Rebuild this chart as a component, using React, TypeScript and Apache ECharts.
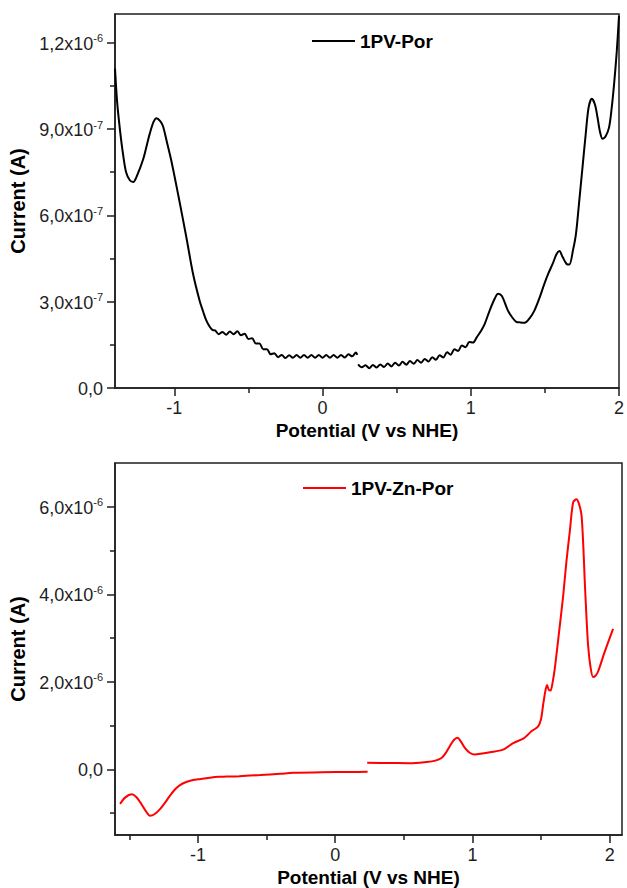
import React, { useEffect, useRef } from "react";
import * as echarts from "echarts";

// ---- Top panel: 1PV-Por (current in units of 1e-7 A) ----
const porSegA: [number, number][] = [
  [-1.4, 11.1], [-1.385, 9.9], [-1.366, 8.95], [-1.345, 8.1], [-1.325, 7.5], [-1.3, 7.22],
  [-1.277, 7.16], [-1.25, 7.4], [-1.21, 7.95], [-1.185, 8.45], [-1.165, 8.85], [-1.14, 9.25],
  [-1.12, 9.38], [-1.095, 9.28], [-1.076, 9.1], [-1.05, 8.55], [-1.02, 7.9], [-0.975, 6.75],
  [-0.919, 5.25], [-0.874, 3.98], [-0.83, 3.05], [-0.805, 2.65], [-0.785, 2.36], [-0.76, 2.12],
  [-0.74, 2.01], [-0.725, 2.0], [-0.7, 1.87], [-0.675, 1.95], [-0.65, 1.85], [-0.625, 1.96],
  [-0.6, 1.87], [-0.575, 1.97], [-0.55, 1.83], [-0.525, 1.89], [-0.5, 1.7], [-0.475, 1.73],
  [-0.45, 1.55], [-0.425, 1.55], [-0.4, 1.35], [-0.375, 1.35], [-0.35, 1.17], [-0.325, 1.21],
  [-0.3, 1.07], [-0.275, 1.15], [-0.25, 1.04], [-0.225, 1.14], [-0.2, 1.05], [-0.175, 1.15],
  [-0.15, 1.05], [-0.125, 1.15], [-0.1, 1.05], [-0.075, 1.15], [-0.05, 1.05], [-0.025, 1.15],
  [0, 1.05], [0.025, 1.15], [0.05, 1.05], [0.075, 1.15], [0.1, 1.05], [0.125, 1.15],
  [0.15, 1.06], [0.175, 1.17], [0.2, 1.1], [0.225, 1.23], [0.235, 1.15],
];
const porSegB: [number, number][] = [
  [0.24, 0.82], [0.265, 0.72], [0.29, 0.79], [0.315, 0.69], [0.34, 0.8], [0.365, 0.71],
  [0.39, 0.82], [0.415, 0.73], [0.44, 0.85], [0.465, 0.75], [0.49, 0.88], [0.515, 0.78],
  [0.54, 0.91], [0.565, 0.81], [0.59, 0.94], [0.615, 0.84], [0.64, 0.97], [0.665, 0.88],
  [0.69, 1.01], [0.715, 0.92], [0.74, 1.07], [0.765, 0.98], [0.79, 1.14], [0.815, 1.06],
  [0.84, 1.24], [0.865, 1.16], [0.89, 1.35], [0.915, 1.29], [0.94, 1.48], [0.965, 1.42],
  [0.99, 1.6], [1.015, 1.58], [1.04, 1.76], [1.072, 2.01], [1.095, 2.24], [1.128, 2.7],
  [1.162, 3.11], [1.184, 3.28], [1.21, 3.2], [1.25, 2.7], [1.28, 2.45], [1.307, 2.3],
  [1.335, 2.28], [1.363, 2.27], [1.4, 2.45], [1.43, 2.7], [1.465, 3.15], [1.497, 3.63],
  [1.525, 4.0], [1.553, 4.32], [1.578, 4.65], [1.598, 4.76], [1.62, 4.55], [1.645, 4.32],
  [1.665, 4.29], [1.69, 4.8], [1.71, 5.37], [1.73, 6.4], [1.754, 7.68], [1.775, 8.8],
  [1.795, 9.75], [1.817, 10.05], [1.838, 9.85], [1.855, 9.41], [1.872, 8.9], [1.889, 8.66],
  [1.91, 8.75], [1.933, 9.06], [1.95, 9.7], [1.967, 10.57], [1.985, 11.7], [2.0, 12.94],
];

// ---- Bottom panel: 1PV-Zn-Por (current in units of 1e-6 A) ----
const znSegA: [number, number][] = [
  [-1.568, -0.79], [-1.53, -0.64], [-1.483, -0.57], [-1.45, -0.63], [-1.422, -0.75],
  [-1.385, -0.93], [-1.35, -1.06], [-1.315, -1.02], [-1.277, -0.91], [-1.24, -0.76],
  [-1.204, -0.6], [-1.165, -0.45], [-1.131, -0.36], [-1.095, -0.3], [-1.058, -0.26],
  [-0.98, -0.22], [-0.913, -0.19], [-0.85, -0.17], [-0.791, -0.165], [-0.7, -0.155],
  [-0.548, -0.13], [-0.4, -0.1], [-0.306, -0.08], [-0.1, -0.065], [0.107, -0.06], [0.236, -0.055],
];
const znSegB: [number, number][] = [
  [0.233, 0.15], [0.4, 0.145], [0.544, 0.14], [0.666, 0.17], [0.73, 0.2], [0.775, 0.26],
  [0.805, 0.37], [0.835, 0.53], [0.865, 0.67], [0.891, 0.72], [0.915, 0.64], [0.945, 0.49],
  [0.98, 0.38], [1.017, 0.34], [1.07, 0.36], [1.127, 0.39], [1.224, 0.45], [1.26, 0.52],
  [1.297, 0.6], [1.37, 0.7], [1.4, 0.78], [1.43, 0.87], [1.479, 0.98], [1.5, 1.15],
  [1.515, 1.47], [1.532, 1.8], [1.544, 1.93], [1.556, 1.82], [1.569, 1.8], [1.585, 2.0],
  [1.6, 2.3], [1.63, 3.1], [1.661, 3.96], [1.685, 4.75], [1.71, 5.45], [1.734, 6.1],
  [1.758, 6.17], [1.778, 6.05], [1.795, 5.8], [1.808, 5.1], [1.818, 4.34], [1.83, 3.55],
  [1.843, 2.83], [1.86, 2.35], [1.879, 2.11], [1.897, 2.14], [1.915, 2.23], [1.96, 2.65],
  [2.025, 3.21],
];

// ---- Ticks ----
const topXMajor = [-1, 0, 1, 2];
const topXMinor = [-0.5, 0.5, 1.5];
const topYMajor = [0, 3, 6, 9, 12]; // x1e-7
const topYMinor = [1.5, 4.5, 7.5, 10.5];
const botXMajor = [-1, 0, 1, 2];
const botXMinor = [-1.5, -0.5, 0.5, 1.5];
const botYMajor = [0, 2, 4, 6]; // x1e-6
const botYMinor = [-1, 1, 3, 5];

const TOP_UNIT = 1e-7;
const BOT_UNIT = 1e-6;

const seriesNames = ["1PV-Por", "1PV-Zn-Por"];
const seriesColors = ["#000000", "#ff0000"];

const FONT = "Liberation Sans, Arial, sans-serif";
const AXIS_COLOR = "#1e1e1e";

function sciLabel(v: number, unit: number): string {
  if (Math.abs(v) < 1e-9) return "{b|0,0}";
  const val = v * unit;
  const exp = Math.floor(Math.log10(Math.abs(val)) + 1e-9);
  const mant = val / Math.pow(10, exp);
  return `{b|${mant.toFixed(1).replace(".", ",")}x10}{s|${exp}}`;
}

export default function App() {
  const ref = useRef<HTMLDivElement>(null);
  useEffect(() => {
    if (!ref.current) return;
    const chart = echarts.init(ref.current, undefined, { renderer: "svg" });
    const grids = [
      { left: 115, top: 14, width: 507, height: 374 },
      { left: 115, top: 463, width: 507, height: 374 },
    ];
    const richY = {
      b: { fontSize: 18, fontFamily: FONT, color: AXIS_COLOR, lineHeight: 20, verticalAlign: "bottom" },
      s: { fontSize: 11, fontFamily: FONT, color: AXIS_COLOR, lineHeight: 12, verticalAlign: "top" },
    };
    const mainX = (gridIndex: number, min: number, max: number, major: number[]) => ({
      type: "value",
      gridIndex,
      min,
      max,
      position: "bottom",
      name: "Potential (V vs NHE)",
      nameLocation: "middle",
      nameGap: 33,
      nameTextStyle: { fontSize: 19, fontWeight: "bold", fontFamily: FONT, color: "#000" },
      axisLine: { show: true, onZero: false, lineStyle: { color: AXIS_COLOR, width: 1.5 } },
      axisTick: { show: true, inside: false, length: 8, customValues: major, lineStyle: { color: AXIS_COLOR, width: 1.5 } },
      axisLabel: {
        show: true,
        customValues: major,
        margin: 11,
        fontSize: 18,
        fontFamily: FONT,
        color: AXIS_COLOR,
        formatter: (v: number) => String(v),
      },
      splitLine: { show: false },
    });
    const minorX = (gridIndex: number, min: number, max: number, minor: number[]) => ({
      type: "value",
      gridIndex,
      min,
      max,
      position: "bottom",
      axisLine: { show: false, onZero: false },
      axisTick: { show: true, inside: false, length: 5, customValues: minor, lineStyle: { color: AXIS_COLOR, width: 1.5 } },
      axisLabel: { show: false },
      splitLine: { show: false },
    });
    const mainY = (gridIndex: number, min: number, max: number, major: number[], unit: number) => ({
      type: "value",
      gridIndex,
      min,
      max,
      position: "left",
      name: "Current (A)",
      nameLocation: "middle",
      nameGap: 82,
      nameTextStyle: { fontSize: 20, fontWeight: "bold", fontFamily: FONT, color: "#000" },
      axisLine: { show: true, onZero: false, lineStyle: { color: AXIS_COLOR, width: 1.5 } },
      axisTick: { show: true, inside: false, length: 8, customValues: major, lineStyle: { color: AXIS_COLOR, width: 1.5 } },
      axisLabel: {
        show: true,
        customValues: major,
        margin: 12,
        fontSize: 18,
        fontFamily: FONT,
        color: AXIS_COLOR,
        formatter: (v: number) => sciLabel(v, unit),
        rich: richY,
      },
      splitLine: { show: false },
    });
    const minorY = (gridIndex: number, min: number, max: number, minor: number[]) => ({
      type: "value",
      gridIndex,
      min,
      max,
      position: "left",
      axisLine: { show: false, onZero: false },
      axisTick: { show: true, inside: false, length: 5, customValues: minor, lineStyle: { color: AXIS_COLOR, width: 1.5 } },
      axisLabel: { show: false },
      splitLine: { show: false },
    });
    const lineSeries = (name: string, data: [number, number][], xi: number, yi: number, color: string) => ({
      type: "line",
      name,
      data,
      xAxisIndex: xi,
      yAxisIndex: yi,
      showSymbol: false,
      symbol: "none",
      smooth: 0.3,
      lineStyle: { color, width: 2 },
      itemStyle: { color },
      emphasis: { disabled: true },
    });
    const legendItem = (name: string, color: string, x1: number, x2: number, y: number) => [
      {
        type: "line",
        shape: { x1, y1: y, x2, y2: y },
        style: { stroke: color, lineWidth: 2 },
        silent: true,
      },
      {
        type: "text",
        x: x2 + 5,
        y,
        style: {
          text: name,
          fill: "#000",
          font: `bold 19px ${FONT}`,
          textVerticalAlign: "middle",
          verticalAlign: "middle",
        },
        silent: true,
      },
    ];

    chart.setOption({
      animation: false,
      backgroundColor: "#fff",
      grid: grids.map((g) => ({ ...g, show: true, borderColor: AXIS_COLOR, borderWidth: 1.5, backgroundColor: "transparent" })),
      xAxis: [
        mainX(0, -1.4, 2, topXMajor),
        minorX(0, -1.4, 2, topXMinor),
        mainX(1, -1.605, 2.09, botXMajor),
        minorX(1, -1.605, 2.09, botXMinor),
      ],
      yAxis: [
        mainY(0, 0, 13, topYMajor, TOP_UNIT),
        minorY(0, 0, 13, topYMinor),
        mainY(1, -1.5, 7, botYMajor, BOT_UNIT),
        minorY(1, -1.5, 7, botYMinor),
      ],
      graphic: [
        ...legendItem(seriesNames[0], seriesColors[0], 312, 355, 41),
        ...legendItem(seriesNames[1], seriesColors[1], 303, 346, 488),
      ],
      series: [
        lineSeries(seriesNames[0], porSegA, 0, 0, seriesColors[0]),
        lineSeries(seriesNames[0], porSegB, 0, 0, seriesColors[0]),
        lineSeries(seriesNames[1], znSegA, 2, 2, seriesColors[1]),
        lineSeries(seriesNames[1], znSegB, 2, 2, seriesColors[1]),
      ],
    });
    return () => chart.dispose();
  }, []);
  return (
    <div
      ref={ref}
      style={{ position: "fixed", left: 0, top: 0, width: 627, height: 888, background: "#fff" }}
    />
  );
}
